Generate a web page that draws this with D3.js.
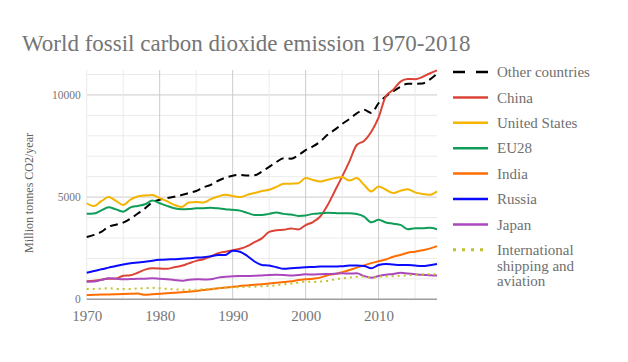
<!DOCTYPE html>
<html>
<head>
<meta charset="utf-8">
<script src="https://cdn.jsdelivr.net/npm/d3@7"></script>
<style>
  body { margin: 0; background: #fff; }
  svg text { font-family: "Liberation Serif", "Times New Roman", serif !important; }
</style>
</head>
<body>
<script>
var years = d3.range(1970, 2019);

var other = [3050,3150,3300,3550,3650,3750,3950,4200,4450,4750,4870,4950,5020,5100,5200,5300,5480,5600,5800,5950,
             6050,6090,6060,6070,6250,6480,6720,6900,6880,7050,7300,7480,7720,8050,8300,8580,8820,9100,9270,9120,
             9600,9930,10180,10400,10550,10550,10560,10750,11030];
var china = [880,910,960,1000,1020,1150,1180,1300,1450,1520,1510,1490,1570,1640,1760,1880,1960,2090,2250,2330,
             2400,2470,2600,2800,2980,3300,3380,3400,3470,3420,3630,3780,4050,4600,5300,6000,6750,7550,7750,8200,
             8900,9950,10250,10650,10780,10770,10880,11050,11200];
var us = [4700,4560,4800,5000,4820,4620,4880,5030,5080,5100,4950,4800,4620,4520,4740,4760,4740,4900,5030,5110,
          5060,5000,5110,5200,5300,5360,5500,5650,5660,5680,5930,5840,5760,5850,5930,5980,5810,5930,5600,5280,
          5520,5360,5200,5310,5390,5230,5150,5110,5280];
var eu28 = [4180,4200,4350,4510,4400,4290,4500,4570,4650,4830,4700,4570,4460,4410,4420,4450,4460,4480,4450,4410,
            4380,4340,4230,4130,4120,4180,4250,4180,4150,4080,4100,4180,4210,4230,4220,4210,4210,4170,4050,3770,
            3890,3760,3700,3640,3430,3480,3480,3500,3430];
var india = [210,220,230,240,250,260,270,280,220,250,270,300,320,350,370,410,450,490,540,580,
             610,650,680,710,740,770,810,850,880,940,980,1010,1060,1180,1240,1330,1430,1550,1660,1770,
             1860,1950,2080,2170,2280,2330,2400,2480,2600];
var russia = [1300,1380,1470,1550,1630,1700,1760,1800,1840,1890,1930,1950,1960,1990,2010,2040,2060,2110,2170,2170,
              2380,2330,2120,1850,1680,1650,1570,1490,1520,1540,1570,1580,1600,1610,1600,1620,1650,1650,1630,1520,
              1680,1730,1700,1680,1680,1650,1630,1670,1730];
var japan = [860,870,950,1030,1010,980,990,1000,1010,1030,1000,980,950,910,960,980,970,980,1060,1100,
             1130,1140,1140,1150,1170,1190,1200,1190,1160,1190,1220,1210,1230,1240,1250,1270,1260,1270,1140,1060,
             1140,1200,1240,1300,1260,1220,1200,1180,1160];
var intl = [500,510,520,540,510,500,510,530,540,560,540,510,490,470,470,460,490,510,540,570,
            590,590,610,620,640,650,690,730,770,810,860,850,870,900,980,1020,1060,1100,1110,1060,
            1100,1120,1130,1150,1170,1200,1210,1230,1220];

var seriesNames = ["Other countries", "China", "United States", "EU28", "India", "Russia", "Japan",
                   "International shipping and aviation"];
var seriesValues = [other, china, us, eu28, india, russia, japan, intl];
var colors = ["#000000", "#db4437", "#f4b400", "#0f9d58", "#ff6d01", "#0a0aff", "#ab47bc", "#c4c22c"];

var yTicks = [0, 5000, 10000];
var xTicks = [1970, 1980, 1990, 2000, 2010];

const w = 628, h = 362,
      pLeft = 86.7, pRight = 437, pTop = 70, pBottom = 299.3,
      serif = "'Liberation Serif', 'Times New Roman', serif";

const x = d3.scaleLinear().domain([1970, 2018]).range([pLeft, pRight]);
const y = d3.scaleLinear().domain([0, 11220]).range([pBottom, pTop]);

const svg = d3.select("body").append("svg")
    .attr("width", w)
    .attr("height", h)
    .attr("font-family", serif);

// grid
svg.append("g").selectAll("line")
    .data(d3.range(1000, 11001, 1000))
    .enter().append("line")
    .attr("x1", pLeft).attr("x2", pRight)
    .attr("y1", d => y(d)).attr("y2", d => y(d))
    .attr("stroke", d => d % 5000 == 0 ? "#cccccc" : "#ebebeb")
    .attr("stroke-width", 1);

svg.append("g").selectAll("line")
    .data(d3.range(1970, 2018, 5))
    .enter().append("line")
    .attr("x1", d => x(d)).attr("x2", d => x(d))
    .attr("y1", pTop).attr("y2", pBottom)
    .attr("stroke", d => d % 10 == 0 && d != 1970 ? "#cccccc" : "#ebebeb")
    .attr("stroke-width", 1);

svg.append("line")
    .attr("x1", pLeft).attr("x2", pRight)
    .attr("y1", y(0)).attr("y2", y(0))
    .attr("stroke", "#9e9e9e")
    .attr("stroke-width", 1.5);

// axes
const yAxis = svg.append("g")
    .attr("transform", "translate(" + pLeft + ",0)")
    .call(d3.axisLeft(y).tickValues(yTicks).tickSize(0).tickPadding(6).tickFormat(d3.format("d")))
    .attr("font-family", serif);
yAxis.select(".domain").remove();
yAxis.selectAll("text")
    .attr("fill", "#757575")
    .attr("font-size", 11.5);

const xAxis = svg.append("g")
    .attr("transform", "translate(0," + pBottom + ")")
    .call(d3.axisBottom(x).tickValues(xTicks).tickSize(0).tickFormat(d3.format("d")))
    .attr("font-family", serif);
xAxis.select(".domain").remove();
xAxis.selectAll("text")
    .attr("y", 21.5)
    .attr("dy", 0)
    .attr("fill", "#757575")
    .attr("font-size", 15);

// lines
const line = d3.line()
    .x((d, i) => x(years[i]))
    .y(d => y(d))
    .curve(d3.curveMonotoneX);

seriesValues.forEach(function(vals, k) {
    svg.append("path")
        .datum(vals)
        .attr("d", line)
        .attr("fill", "none")
        .attr("stroke", colors[k])
        .attr("stroke-width", 2)
        .attr("stroke-dasharray", k == 0 ? "8,5" : (k == 7 ? "2,4" : null));
});

// title
svg.append("text")
    .text("World fossil carbon dioxide emission 1970-2018")
    .attr("x", 22)
    .attr("y", 51)
    .attr("font-size", 23)
    .attr("fill", "#757575");

svg.append("text")
    .text("Million tonnes CO2/year")
    .attr("transform", "translate(33,193)rotate(-90)")
    .attr("text-anchor", "middle")
    .attr("font-size", 12)
    .attr("fill", "#616161");

// legend
const legend = svg.append("g");
seriesNames.forEach(function(name, k) {
    var ly = 72 + k * 25.4;
    legend.append("line")
        .attr("x1", 453).attr("x2", 488)
        .attr("y1", ly).attr("y2", ly)
        .attr("stroke", colors[k])
        .attr("stroke-width", k == 7 ? 3 : 2.5)
        .attr("stroke-dasharray", k == 0 ? "12,11" : (k == 7 ? "3,6" : null));
    var t = legend.append("text")
        .attr("x", 497)
        .attr("y", ly)
        .attr("font-size", 15)
        .attr("fill", "#6f6f6f");
    if (k == 7) {
        ["International", "shipping and", "aviation"].forEach(function(s, j) {
            t.append("tspan").attr("x", 497).attr("dy", j == 0 ? "0.35em" : 15.5).text(s);
        });
    } else {
        t.attr("dy", "0.35em").text(name);
    }
});
</script>
</body>
</html>
